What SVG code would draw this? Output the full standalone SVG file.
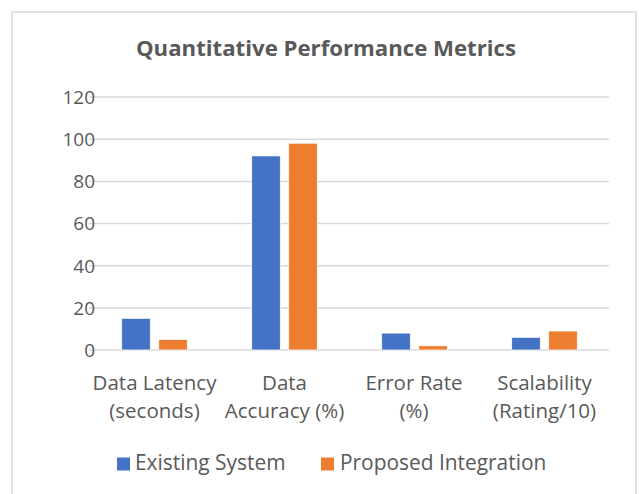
<svg xmlns="http://www.w3.org/2000/svg" width="639" height="494" viewBox="0 0 639 494">
<style>
.t{font-family:"Open Sans","Liberation Sans",sans-serif;fill:#595959;font-size:20.5px}
.title{font-weight:bold;font-size:22.2px;text-anchor:middle}
.tick{text-anchor:end;font-size:19px}
.cat{text-anchor:middle}
.leg{font-size:20.9px}
.grid{stroke:#D9D9D9;stroke-width:1.5}
.b{fill:#4472C4;stroke:#fff;stroke-width:0.75}
.o{fill:#ED7D31;stroke:#fff;stroke-width:0.75}
</style>
<rect x="0" y="0" width="639" height="494" fill="#fff"/>
<rect x="12" y="12" width="624" height="500" fill="#fff" stroke="#D9D9D9" stroke-width="1.5"/>
<text class="t title" x="326" y="56">Quantitative Performance Metrics</text>
<g id="grid">
<line class="grid" x1="89" y1="97" x2="609" y2="97"/>
<line class="grid" x1="89" y1="139.2" x2="609" y2="139.2"/>
<line class="grid" x1="89" y1="181.4" x2="609" y2="181.4"/>
<line class="grid" x1="89" y1="223.6" x2="609" y2="223.6"/>
<line class="grid" x1="89" y1="265.8" x2="609" y2="265.8"/>
<line class="grid" x1="89" y1="308" x2="609" y2="308"/>
<line class="grid" x1="89" y1="350" x2="609" y2="350"/>
</g>
<g id="ticks">
<text class="t tick" x="95" y="104">120</text>
<text class="t tick" x="95" y="146">100</text>
<text class="t tick" x="95" y="188">80</text>
<text class="t tick" x="95" y="230">60</text>
<text class="t tick" x="95" y="273">40</text>
<text class="t tick" x="95" y="315">20</text>
<text class="t tick" x="95" y="357">0</text>
</g>
<g id="bars">
<rect class="b" x="121.7" y="318.3" width="28.6" height="31.7"/>
<rect class="o" x="158.7" y="339.4" width="28.6" height="10.6"/>
<rect class="b" x="251.7" y="155.9" width="28.6" height="194.1"/>
<rect class="o" x="288.7" y="143.2" width="28.6" height="206.8"/>
<rect class="b" x="381.7" y="333.1" width="28.6" height="16.9"/>
<rect class="o" x="418.7" y="345.8" width="28.6" height="4.2"/>
<rect class="b" x="511.7" y="337.3" width="28.6" height="12.7"/>
<rect class="o" x="548.7" y="331" width="28.6" height="19"/>
</g>
<g id="categories">
<text class="t cat" x="154.5" y="389.5">Data Latency</text>
<text class="t cat" x="154.5" y="418">(seconds)</text>
<text class="t cat" x="284.5" y="389.5">Data</text>
<text class="t cat" x="284.5" y="418">Accuracy (%)</text>
<text class="t cat" x="414" y="389.5">Error Rate</text>
<text class="t cat" x="414" y="418">(%)</text>
<text class="t cat" x="544.5" y="389.5">Scalability</text>
<text class="t cat" x="544.5" y="418">(Rating/10)</text>
</g>
<g id="legend">
<rect x="117" y="457.5" width="13" height="13" fill="#4472C4"/>
<text class="t leg" x="135" y="470">Existing System</text>
<rect x="321" y="457.5" width="13" height="13" fill="#ED7D31"/>
<text class="t leg" x="340" y="470">Proposed Integration</text>
</g>
</svg>
